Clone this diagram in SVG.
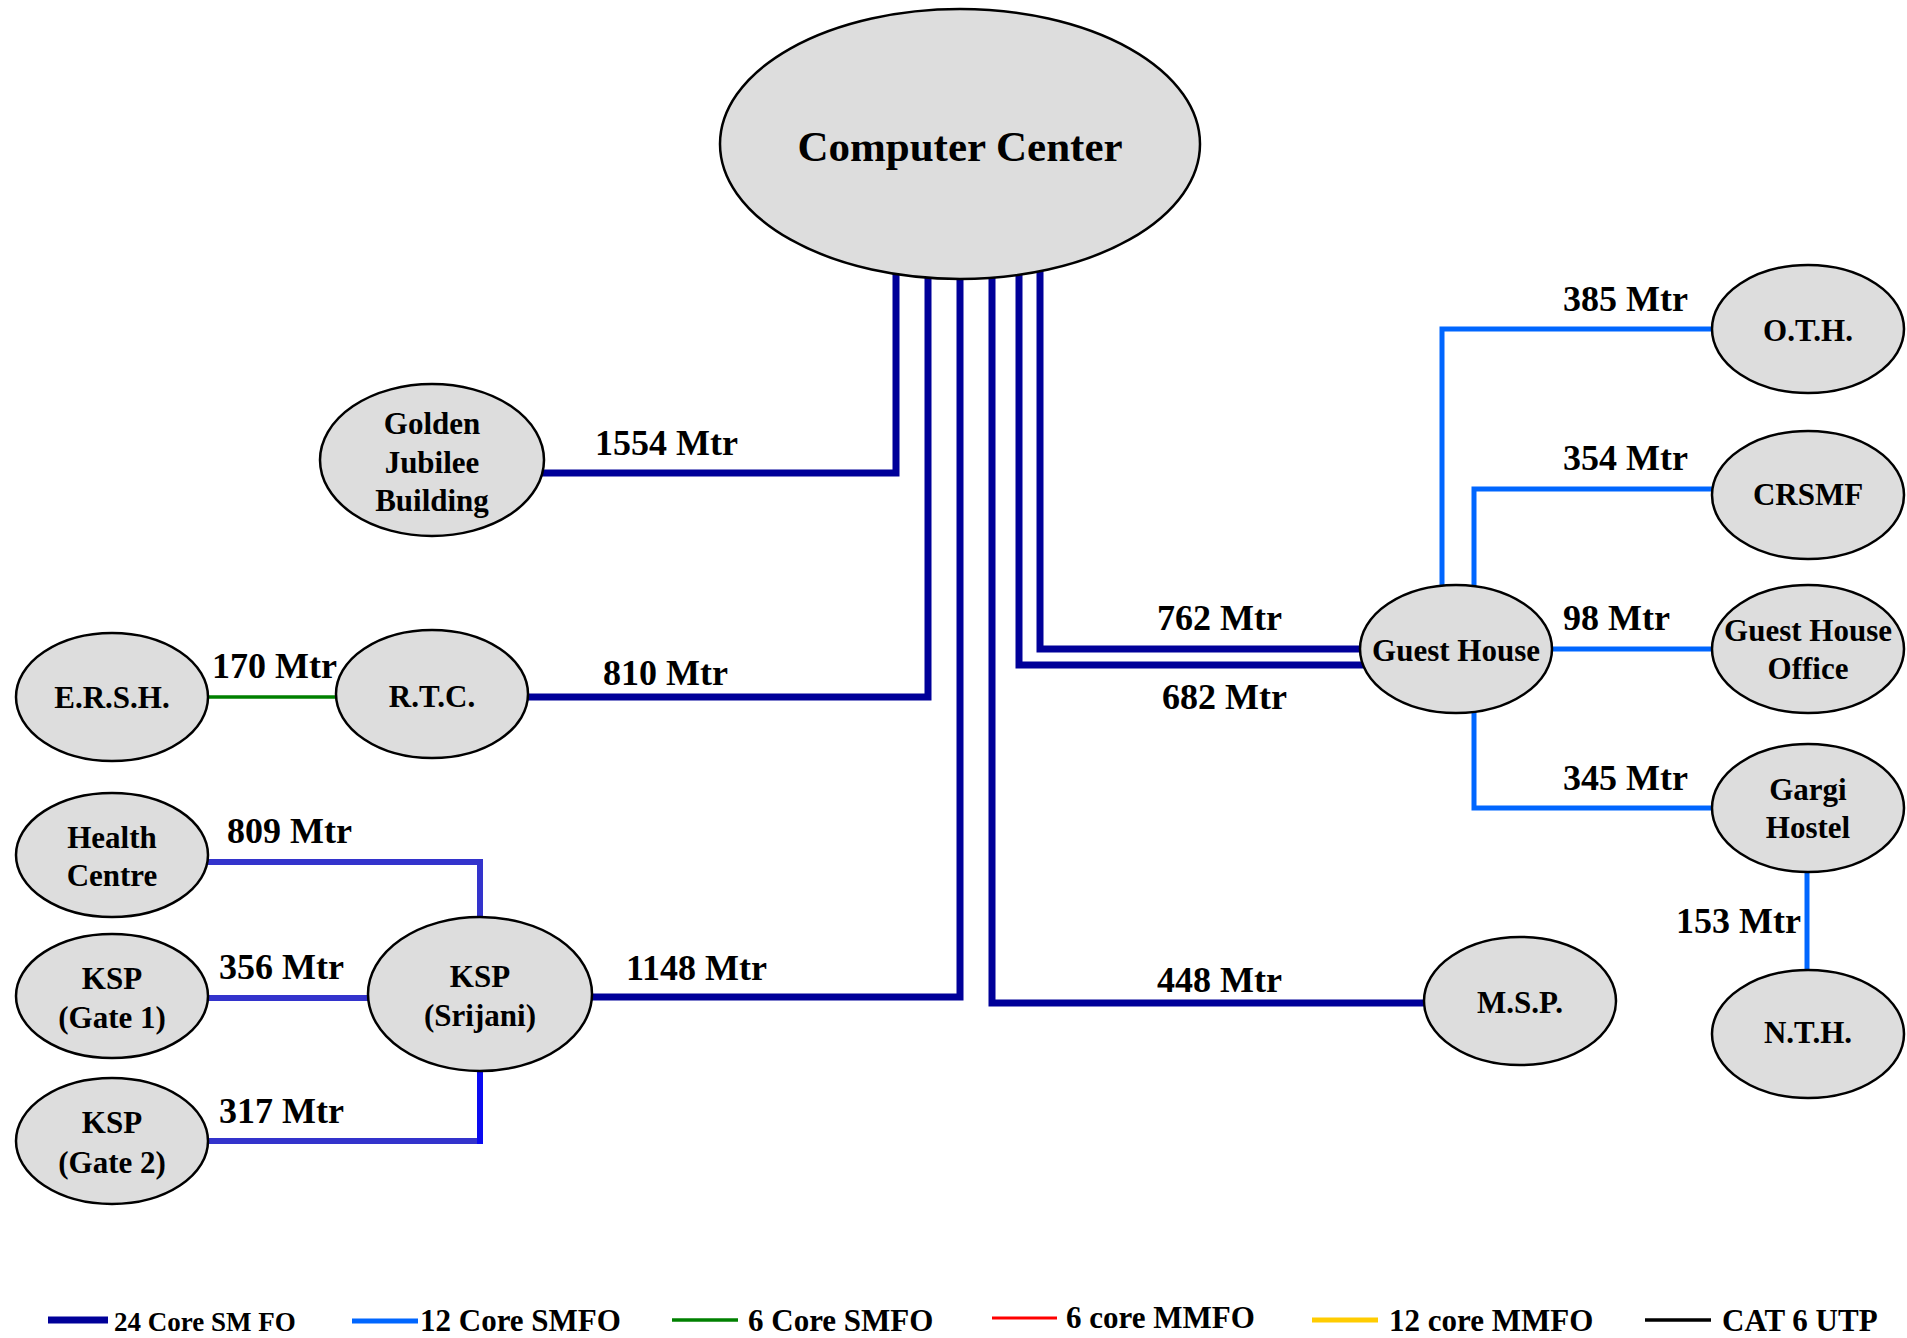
<svg xmlns="http://www.w3.org/2000/svg" width="1907" height="1338" viewBox="0 0 1907 1338">
<style>
text{font-family:"Liberation Serif","Times New Roman",serif;font-weight:bold;fill:#000}
.n{font-size:31px;text-anchor:middle}
.l{font-size:36px}
.g{font-size:31px}
ellipse{fill:#DDDDDD;stroke:#000;stroke-width:2.5}
.c{fill:none;stroke-linejoin:miter;stroke-linecap:butt}
.d{stroke:#000099;stroke-width:7}
.b{stroke:#0066FF;stroke-width:5}
.gr{stroke:#008000;stroke-width:3.5}
.m{stroke:#3333CC;stroke-width:6}
.mb{stroke:#0A0AF0;stroke-width:6}
</style>
<rect width="1907" height="1338" fill="#fff"/>
<g id="connectors">
<path class="c d" d="M896,260 V473 H540"/>
<path class="c d" d="M928,260 V697 H525"/>
<path class="c d" d="M960,260 V997 H590"/>
<path class="c d" d="M992,260 V1003 H1430"/>
<path class="c d" d="M1019,260 V665 H1365"/>
<path class="c d" d="M1040,260 V649 H1365"/>
<path class="c b" d="M1442,590 V329 H1715"/>
<path class="c b" d="M1474,590 V489 H1715"/>
<path class="c b" d="M1550,649 H1715"/>
<path class="c b" d="M1474,710 V808 H1715"/>
<path class="c b" d="M1807,865 V975"/>
<path class="c gr" d="M205,697 H340"/>
<path class="c m" d="M205,862 H480 V920"/>
<path class="c m" d="M205,998 H370"/>
<path class="c m" d="M205,1141 H480"/>
<path class="c mb" d="M480,1144 V1068"/>
</g>
<g id="labels">
<text class="l" x="595" y="455">1554 Mtr</text>
<text class="l" x="603" y="685">810 Mtr</text>
<text class="l" x="626" y="980">1148 Mtr</text>
<text class="l" x="1157" y="992">448 Mtr</text>
<text class="l" x="1162" y="709">682 Mtr</text>
<text class="l" x="1157" y="630">762 Mtr</text>
<text class="l" x="1563" y="311">385 Mtr</text>
<text class="l" x="1563" y="470">354 Mtr</text>
<text class="l" x="1563" y="630">98 Mtr</text>
<text class="l" x="1563" y="790">345 Mtr</text>
<text class="l" x="1676" y="933">153 Mtr</text>
<text class="l" x="212" y="678">170 Mtr</text>
<text class="l" x="227" y="843">809 Mtr</text>
<text class="l" x="219" y="979">356 Mtr</text>
<text class="l" x="219" y="1123">317 Mtr</text>
</g>
<g id="computer-center"><ellipse cx="960" cy="144" rx="240" ry="135"/><text x="960" y="161" style="font-size:43px;text-anchor:middle">Computer Center</text></g>
<g id="golden-jubilee"><ellipse cx="432" cy="460" rx="112" ry="76"/><text class="n" x="432" y="434">Golden</text><text class="n" x="432" y="473">Jubilee</text><text class="n" x="432" y="511">Building</text></g>
<g id="ersh"><ellipse cx="112" cy="697" rx="96" ry="64"/><text class="n" x="112" y="708">E.R.S.H.</text></g>
<g id="rtc"><ellipse cx="432" cy="694" rx="96" ry="64"/><text class="n" x="432" y="707">R.T.C.</text></g>
<g id="health-centre"><ellipse cx="112" cy="855" rx="96" ry="62"/><text class="n" x="112" y="848">Health</text><text class="n" x="112" y="886">Centre</text></g>
<g id="ksp-gate1"><ellipse cx="112" cy="996" rx="96" ry="62"/><text class="n" x="112" y="989">KSP</text><text class="n" x="112" y="1028">(Gate 1)</text></g>
<g id="ksp-gate2"><ellipse cx="112" cy="1141" rx="96" ry="63"/><text class="n" x="112" y="1133">KSP</text><text class="n" x="112" y="1173">(Gate 2)</text></g>
<g id="ksp-srijani"><ellipse cx="480" cy="994" rx="112" ry="77"/><text class="n" x="480" y="987">KSP</text><text class="n" x="480" y="1026">(Srijani)</text></g>
<g id="msp"><ellipse cx="1520" cy="1001" rx="96" ry="64"/><text class="n" x="1520" y="1013">M.S.P.</text></g>
<g id="guest-house"><ellipse cx="1456" cy="649" rx="96" ry="64"/><text class="n" x="1456" y="661">Guest House</text></g>
<g id="oth"><ellipse cx="1808" cy="329" rx="96" ry="64"/><text class="n" x="1808" y="341">O.T.H.</text></g>
<g id="crsmf"><ellipse cx="1808" cy="495" rx="96" ry="64"/><text class="n" x="1808" y="505">CRSMF</text></g>
<g id="guest-house-office"><ellipse cx="1808" cy="649" rx="96" ry="64"/><text class="n" x="1808" y="641">Guest House</text><text class="n" x="1808" y="679">Office</text></g>
<g id="gargi-hostel"><ellipse cx="1808" cy="808" rx="96" ry="64"/><text class="n" x="1808" y="800">Gargi</text><text class="n" x="1808" y="838">Hostel</text></g>
<g id="nth"><ellipse cx="1808" cy="1034" rx="96" ry="64"/><text class="n" x="1808" y="1043">N.T.H.</text></g>
<g id="legend">
<path class="c" d="M48,1320 H108" stroke="#000099" stroke-width="7"/>
<text x="114" y="1331" style="font-size:27px">24 Core SM FO</text>
<path class="c" d="M352,1321 H418" stroke="#0066FF" stroke-width="5"/>
<text class="g" x="420" y="1331">12 Core SMFO</text>
<path class="c" d="M672,1320 H738" stroke="#008000" stroke-width="3.5"/>
<text class="g" x="748" y="1331">6 Core SMFO</text>
<path class="c" d="M992,1318 H1057" stroke="#FF0000" stroke-width="3"/>
<text class="g" x="1066" y="1328">6 core MMFO</text>
<path class="c" d="M1312,1320 H1378" stroke="#FFCC00" stroke-width="5"/>
<text class="g" x="1389" y="1331">12 core MMFO</text>
<path class="c" d="M1645,1320 H1711" stroke="#000000" stroke-width="3.5"/>
<text class="g" x="1722" y="1331">CAT 6 UTP</text>
</g>
</svg>
